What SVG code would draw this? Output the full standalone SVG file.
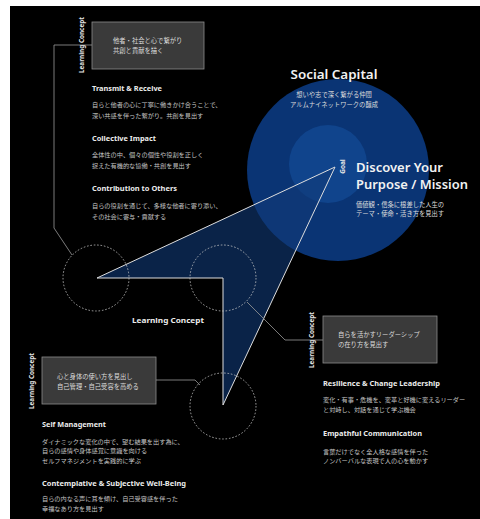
<svg xmlns="http://www.w3.org/2000/svg" width="480" height="519" viewBox="0 0 480 519">
<defs>
<style>
.bg{fill:#000}
.h{font-family:"Noto Sans","Noto Sans CJK JP",sans-serif;font-weight:700;fill:#ececec}
.hl{font-family:"Noto Sans","Noto Sans CJK JP",sans-serif;font-weight:600;fill:#f2f2f2}
.b{font-family:"Noto Sans CJK JP","Noto Sans",sans-serif;font-size:6.2px;fill:#c4c4c4}
.bw{font-family:"Noto Sans CJK JP","Noto Sans",sans-serif;font-size:6.3px;fill:#dcdcdc}
.lc{font-family:"Noto Sans","Noto Sans CJK JP",sans-serif;font-weight:700;font-size:6.5px;fill:#e6e6e6}
.box{fill:#3a3a3a;stroke:#8c8c8c;stroke-width:0.8}
.con{fill:none;stroke:#9a9a9a;stroke-width:0.8}
.dash{fill:none;stroke:#c8c8c8;stroke-width:0.8;stroke-dasharray:1.6 1.8}
</style>
</defs>
<rect x="0" y="0" width="480" height="519" fill="#fff"/>
<rect class="bg" x="10" y="6" width="470" height="513"/>

<g id="social-capital">
<circle cx="338" cy="170" r="91" fill="#0a3474"/>
<circle cx="328" cy="164" r="39" fill="#10448c"/>
</g>

<g id="arrow">
<polygon points="335,167 97,278 223,278 223,405" fill="#103a78" fill-opacity="0.6" stroke="#dedede" stroke-width="1"/>
</g>

<g id="connectors">
<polyline class="con" points="92,45 54,45 54,228 72,255"/>
<polyline class="con" points="247,302 285,340 323,340"/>
<polyline class="con" points="156,380 195,380 200,385"/>
</g>

<g id="vertex-left"><circle class="dash" cx="96" cy="278" r="33"/></g>
<g id="vertex-middle"><circle class="dash" cx="223" cy="278" r="33"/></g>
<g id="vertex-bottom"><circle class="dash" cx="223" cy="406" r="33"/></g>

<g id="lc-top">
<rect class="box" x="92" y="22" width="112" height="47"/>
<text class="bw" x="113" y="43">他者・社会と心で繋がり</text>
<text class="bw" x="113" y="53">共創と貢献を描く</text>
<text class="lc" transform="translate(84,45) rotate(-90)" text-anchor="middle" textLength="56" lengthAdjust="spacingAndGlyphs">Learning Concept</text>
</g>

<g id="lc-right">
<rect class="box" x="323" y="316" width="114" height="47"/>
<text class="bw" x="338" y="337">自らを活かすリーダーシップ</text>
<text class="bw" x="338" y="347">の在り方を見出す</text>
<text class="lc" transform="translate(314,340) rotate(-90)" text-anchor="middle" textLength="56" lengthAdjust="spacingAndGlyphs">Learning Concept</text>
</g>

<g id="lc-left">
<rect class="box" x="42" y="357" width="114" height="47"/>
<text class="bw" x="57" y="379">心と身体の使い方を見出し</text>
<text class="bw" x="57" y="388.5">自己管理・自己受容を高める</text>
<text class="lc" transform="translate(34,381) rotate(-90)" text-anchor="middle" textLength="56" lengthAdjust="spacingAndGlyphs">Learning Concept</text>
</g>

<g id="left-column">
<text class="h" x="92" y="91" font-size="7.5" textLength="70" lengthAdjust="spacingAndGlyphs">Transmit &amp; Receive</text>
<text class="b" x="92" y="107">自らと他者の心に丁寧に働きかけ合うことで、</text>
<text class="b" x="92" y="118">深い共感を伴った繋がり。共創を見出す</text>
<text class="h" x="92" y="141" font-size="7.5" textLength="64" lengthAdjust="spacingAndGlyphs">Collective Impact</text>
<text class="b" x="92" y="157">全体性の中、個々の個性や役割を正しく</text>
<text class="b" x="92" y="168">捉えた有機的な協働・共創を見出す</text>
<text class="h" x="92" y="191" font-size="7.5" textLength="85" lengthAdjust="spacingAndGlyphs">Contribution to Others</text>
<text class="b" x="92" y="208">自らの役割を通じて、多様な他者に寄り添い、</text>
<text class="b" x="92" y="219">その社会に寄与・貢献する</text>
</g>

<g id="goal">
<text class="hl" x="334" y="79" font-size="13" text-anchor="middle" textLength="87" lengthAdjust="spacingAndGlyphs">Social Capital</text>
<text class="bw" x="334" y="97" text-anchor="middle">想いや志で深く繋がる仲間</text>
<text class="bw" x="334" y="107" text-anchor="middle">アルムナイネットワークの醸成</text>
<text class="lc" transform="translate(345,166.5) rotate(-90)" text-anchor="middle" font-size="6.5">Goal</text>
<text class="hl" x="356" y="172" font-size="12.5" textLength="87" lengthAdjust="spacingAndGlyphs">Discover Your</text>
<text class="hl" x="356" y="188.5" font-size="12.5" textLength="112" lengthAdjust="spacingAndGlyphs">Purpose / Mission</text>
<text class="bw" x="356" y="207">価値観・信条に根差した人生の</text>
<text class="bw" x="356" y="216">テーマ・使命・活き方を見出す</text>
</g>

<g id="center-label">
<text class="h" x="132" y="323" font-size="7.5" textLength="72" lengthAdjust="spacingAndGlyphs">Learning Concept</text>
</g>

<g id="right-column">
<text class="h" x="323" y="386" font-size="7.5" textLength="117" lengthAdjust="spacingAndGlyphs">Resilience &amp; Change Leadership</text>
<text class="b" x="323" y="402">変化・有事・危機を、変革と好機に変えるリーダー</text>
<text class="b" x="323" y="411.5">と対峙し、対話を通じて学ぶ機会</text>
<text class="h" x="323" y="436" font-size="7.5" textLength="99" lengthAdjust="spacingAndGlyphs">Empathful Communication</text>
<text class="b" x="323" y="453.5">言葉だけでなく全人格な感情を伴った</text>
<text class="b" x="323" y="463">ノンバーバルな表現で人の心を動かす</text>
</g>

<g id="bottom-left-column">
<text class="h" x="42" y="427" font-size="7.5" textLength="64" lengthAdjust="spacingAndGlyphs">Self Management</text>
<text class="b" x="42" y="443.5">ダイナミックな変化の中で、望む結果を出す為に、</text>
<text class="b" x="42" y="453">自らの感情や身体感覚に意識を向ける</text>
<text class="b" x="42" y="463">セルフマネジメントを実践的に学ぶ</text>
<text class="h" x="42" y="486" font-size="7.5" textLength="144" lengthAdjust="spacingAndGlyphs">Contemplative &amp; Subjective Well-Being</text>
<text class="b" x="42" y="501">自らの内なる声に耳を傾け、自己受容感を伴った</text>
<text class="b" x="42" y="510.5">幸福なあり方を見出す</text>
</g>
</svg>
